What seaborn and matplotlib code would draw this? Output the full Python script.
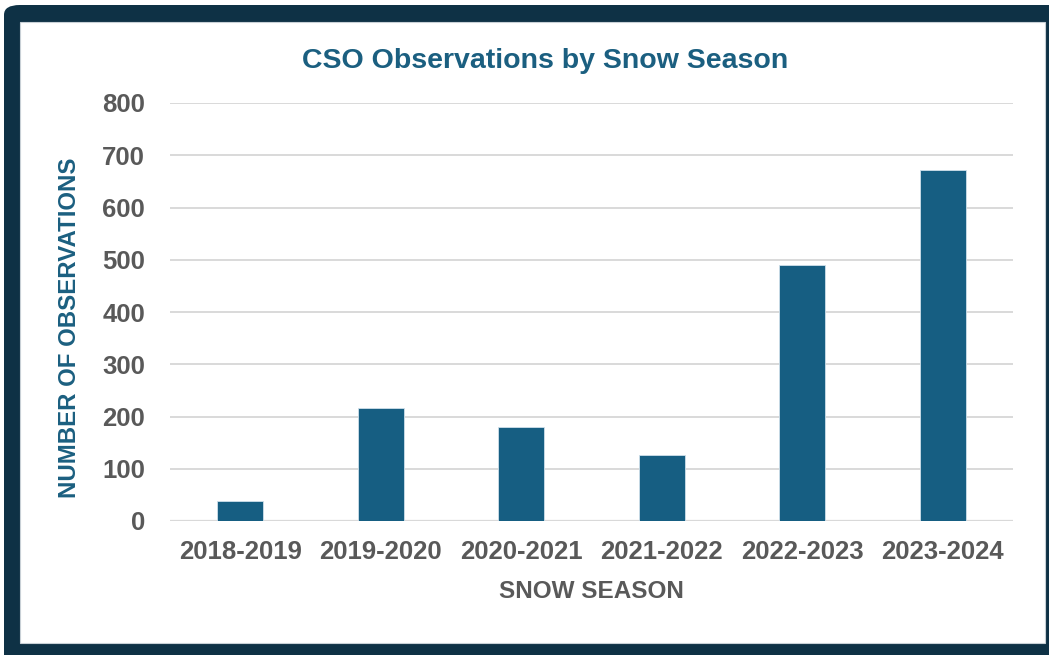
import matplotlib
matplotlib.use("Agg")
import matplotlib.pyplot as plt
from matplotlib.patches import FancyBboxPatch, Rectangle
import seaborn as sns
import pandas as pd

seasons = ["2018-2019", "2019-2020", "2020-2021", "2021-2022", "2022-2023", "2023-2024"]
observations = [39, 217, 180, 126, 489, 672]
y_ticks = [0, 100, 200, 300, 400, 500, 600, 700, 800]

BAR_COLOR = "#165e82"
TITLE_COLOR = "#1b5f80"
TEXT_GRAY = "#595959"
FRAME_COLOR = "#0e3145"

sns.set_theme(style="white")
plt.rcParams["font.family"] = ["Liberation Sans", "DejaVu Sans"]

W, H = 1049, 655
fig = plt.figure(figsize=(W / 100, H / 100), dpi=100)
fig.patch.set_facecolor("white")

# dark rounded frame with white panel inside
frame = FancyBboxPatch((4 / W, -20 / H), (W + 20) / W, (H + 15) / H,
                       boxstyle="round,pad=0,rounding_size=0.015",
                       transform=fig.transFigure, facecolor=FRAME_COLOR,
                       edgecolor="none", zorder=-3)
fig.patches.append(frame)
panel = Rectangle((20 / W, (H - 643) / H), (1045 - 20) / W, (643 - 22) / H,
                  transform=fig.transFigure, facecolor="white",
                  edgecolor="#c8d0d6", linewidth=0.8, zorder=-2)
fig.patches.append(panel)

ax = fig.add_axes([170 / W, (H - 521) / H, (1013 - 170) / W, (521 - 103) / H])
ax.set_facecolor("none")

df = pd.DataFrame({"season": seasons, "count": observations})
sns.barplot(data=df, x="season", y="count", color=BAR_COLOR, width=0.33,
            saturation=1, edgecolor="#cfe0ea", linewidth=0.6, ax=ax, zorder=3)

ax.set_xlim(-0.5, len(seasons) - 0.5)
ax.set_ylim(0, 800)
ax.set_yticks(y_ticks)
ax.yaxis.grid(True, color="#d9d9d9", linewidth=1.4, zorder=0)
ax.xaxis.grid(False)
ax.set_axisbelow(True)
for s in ax.spines.values():
    s.set_visible(False)
ax.axhline(0, color="#d9d9d9", linewidth=1.6, zorder=2)

ax.tick_params(axis="both", length=0, labelsize=18.5, labelcolor=TEXT_GRAY)
ax.tick_params(axis="y", pad=18)
ax.tick_params(axis="x", pad=14)
for lab in ax.get_xticklabels() + ax.get_yticklabels():
    lab.set_fontweight("bold")

ax.set_xlabel("SNOW SEASON", fontsize=17.5, fontweight="bold", color=TEXT_GRAY)
ax.xaxis.set_label_coords(0.5, -(592 - 521) / (521 - 103), transform=ax.transAxes)
ax.xaxis.label.set_va("center")
ax.set_ylabel("NUMBER OF OBSERVATIONS", fontsize=17.3, fontweight="bold",
              color=TITLE_COLOR)
ax.yaxis.set_label_coords(-(170 - 70) / (1013 - 170), (521 - 328) / (521 - 103))
ax.yaxis.label.set_va("center")

fig.text(545 / W, 1 - 61 / H, "CSO Observations by Snow Season", ha="center", va="center",
         fontsize=20.5, fontweight="bold", color=TITLE_COLOR)

fig.savefig("out.png", dpi=100, facecolor=fig.get_facecolor())
